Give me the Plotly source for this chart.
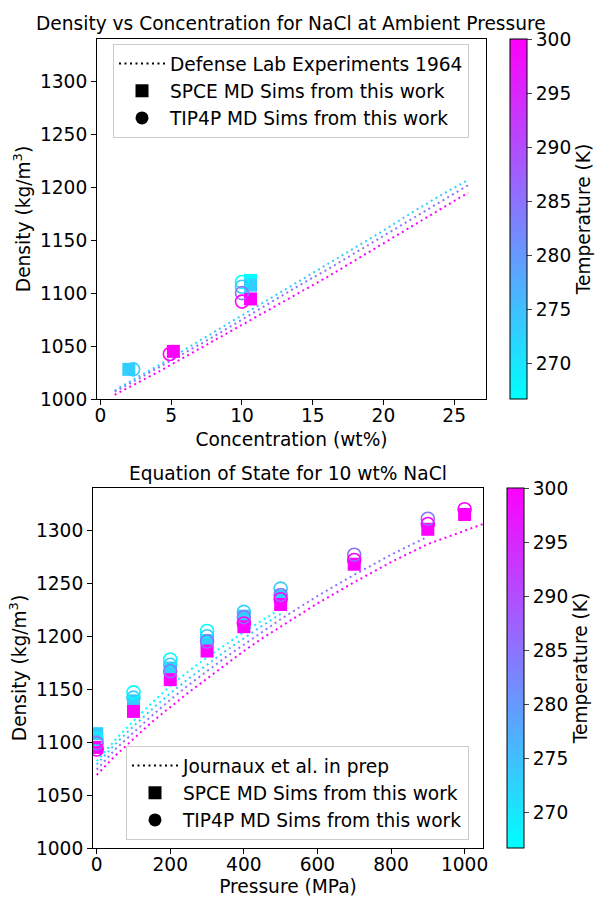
import plotly.graph_objects as go

# ---------------- data ----------------
T_MIN, T_MAX = 266.7, 300.0

# Top panel: Defense Lab experiments 1964 (dotted lines)
conc_lines = [1, 2, 4, 6, 8, 10, 12, 14, 16, 18, 20, 22, 24, 26]
defense_T = [273.15, 285.0, 300.0]
defense_dens = [
    [1008, 1016, 1031, 1047, 1063, 1079, 1095, 1111, 1127, 1143, 1159, 1176, 1192, 1207],
    [1007, 1014, 1029, 1044, 1059, 1075, 1091, 1107, 1122, 1138, 1154, 1170, 1186, 1202],
    [1004, 1011, 1025, 1040, 1055, 1070, 1085, 1100, 1115, 1131, 1147, 1163, 1179, 1195],
]

# Top panel MD sims
spce_conc = [2.0, 5.15, 10.6, 10.6, 10.6]
spce_conc_T = [273.15, 300.0, 266.7, 273.15, 300.0]
spce_conc_dens = [1028, 1045, 1112, 1107.5, 1094.5]

tip4p_conc = [2.3, 4.9, 10.0, 10.0, 10.0, 10.0]
tip4p_conc_T = [273.15, 300.0, 266.7, 273.15, 285.0, 300.0]
tip4p_conc_dens = [1028, 1042.5, 1110.5, 1106, 1100, 1092]

# Bottom panel: Journaux et al. (dotted lines)
journaux_T = [266.7, 273.15, 285.0, 300.0]
journaux_P = [
    [0, 50, 100, 150, 200, 250, 300, 350, 400, 450, 500],
    [0, 50, 100, 150, 200, 250, 300, 350, 400, 450, 500],
    [0, 50, 100, 150, 200, 250, 300, 350, 400, 450, 500, 600, 700, 800, 900],
    [0, 50, 100, 150, 200, 250, 300, 350, 400, 450, 500, 600, 700, 800, 900, 1000, 1050],
]
journaux_dens = [
    [1082, 1102, 1120, 1137, 1153, 1167, 1180, 1192, 1204, 1215, 1226],
    [1079, 1098, 1115, 1131, 1146, 1160, 1173, 1186, 1198, 1210, 1221],
    [1074, 1093, 1109, 1125, 1140, 1154, 1167, 1180, 1192, 1204, 1216, 1238, 1258, 1277, 1294],
    [1069, 1087, 1103, 1119, 1133, 1147, 1160, 1173, 1186, 1198, 1209, 1231, 1251, 1270, 1287, 1300, 1306],
]

# Bottom panel MD sims
spce_P = [0, 0, 100, 100, 200, 200, 300, 300, 400, 400, 500, 500, 700, 900, 1000]
spce_P_T = [273.15, 300, 273.15, 300, 273.15, 300, 273.15, 300, 273.15, 300, 273.15, 300, 300, 300, 300]
spce_P_dens = [1108, 1095, 1139, 1129, 1170, 1159, 1196, 1186, 1219, 1209, 1238, 1230, 1268, 1301, 1315]

tip4p_P = [0, 0, 0, 100, 100, 200, 200, 200, 300, 300, 300, 400, 400, 400, 500, 500, 500, 700, 700, 900, 900, 1000]
tip4p_P_T = [266.7, 285, 300, 266.7, 273.15, 266.7, 273.15, 285, 266.7, 273.15, 285, 273.15, 285, 300,
             273.15, 285, 300, 285, 300, 285, 300, 300]
tip4p_P_dens = [1103, 1099, 1093, 1147, 1142, 1178, 1173, 1167, 1205, 1200, 1195, 1223, 1218, 1212,
                1245, 1239, 1235, 1277, 1272, 1311, 1306, 1320]

cbar_ticks = [270, 275, 280, 285, 290, 295, 300]

# ---------------- styling ----------------
W, H = 596, 897
FONT = "DejaVu Sans"
FS = 18.6
COOL = [[0, "rgb(0,255,255)"], [1, "rgb(255,0,255)"]]
DOT = "2px,3.5px"


def cool(t):
    f = (t - T_MIN) / (T_MAX - T_MIN)
    f = min(max(f, 0), 1)
    return "rgb(%d,%d,255)" % (round(255 * f), round(255 * (1 - f)))


def px_x(p):
    return p / W


def px_y(p):
    return 1 - p / H


fig = go.Figure()

# --- top panel lines
for T, d in zip(defense_T, defense_dens):
    fig.add_trace(go.Scatter(x=conc_lines, y=d, mode="lines", xaxis="x", yaxis="y",
                             line=dict(color=cool(T), width=2, dash=DOT), showlegend=False))
fig.add_trace(go.Scatter(x=spce_conc, y=spce_conc_dens, mode="markers", xaxis="x", yaxis="y",
                         marker=dict(symbol="square", size=13, color=spce_conc_T, coloraxis="coloraxis",
                                     line=dict(width=0)), showlegend=False))
fig.add_trace(go.Scatter(x=tip4p_conc, y=tip4p_conc_dens, mode="markers", xaxis="x", yaxis="y",
                         marker=dict(symbol="circle-open", size=13, color=tip4p_conc_T, coloraxis="coloraxis",
                                     line=dict(width=1.6)), showlegend=False))

# --- bottom panel lines
for T, p, d in zip(journaux_T, journaux_P, journaux_dens):
    fig.add_trace(go.Scatter(x=p, y=d, mode="lines", xaxis="x2", yaxis="y2",
                             line=dict(color=cool(T), width=2, dash=DOT), showlegend=False))
fig.add_trace(go.Scatter(x=spce_P, y=spce_P_dens, mode="markers", xaxis="x2", yaxis="y2",
                         marker=dict(symbol="square", size=13, color=spce_P_T, coloraxis="coloraxis2",
                                     line=dict(width=0)), showlegend=False))
fig.add_trace(go.Scatter(x=tip4p_P, y=tip4p_P_dens, mode="markers", xaxis="x2", yaxis="y2",
                         marker=dict(symbol="circle-open", size=13, color=tip4p_P_T, coloraxis="coloraxis2",
                                     line=dict(width=1.6)), showlegend=False))


# --- legend entries
def legend_entries(label_line, leg, xa, ya):
    fig.add_trace(go.Scatter(x=[None], y=[None], mode="lines", name=label_line, legend=leg,
                             xaxis=xa, yaxis=ya, line=dict(color="black", width=2, dash=DOT)))
    fig.add_trace(go.Scatter(x=[None], y=[None], mode="markers", name="SPCE MD Sims from this work",
                             legend=leg, xaxis=xa, yaxis=ya,
                             marker=dict(symbol="square", size=13, color="black")))
    fig.add_trace(go.Scatter(x=[None], y=[None], mode="markers", name="TIP4P MD Sims from this work",
                             legend=leg, xaxis=xa, yaxis=ya,
                             marker=dict(symbol="circle", size=13, color="black")))


legend_entries("Defense Lab Experiments 1964", "legend", "x", "y")
legend_entries("Journaux et al. in prep", "legend2", "x2", "y2")

axis_common = dict(showline=True, linecolor="black", linewidth=1, mirror=True, ticks="outside",
                   ticklen=5, tickwidth=1, tickcolor="black", showgrid=False, zeroline=False,
                   automargin=False, tickfont=dict(family=FONT, size=FS, color="black"))

top_y = (39, 399)
bot_y = (488, 848)

cbar_common = dict(thickness=17, thicknessmode="pixels", lenmode="fraction", xanchor="left",
                   yanchor="top", xpad=0, ypad=0, outlinewidth=1, outlinecolor="black",
                   tickmode="array", tickvals=cbar_ticks, ticks="outside", ticklen=5,
                   tickfont=dict(family=FONT, size=FS, color="black"),
                   title=dict(text="Temperature (K)", side="right",
                              font=dict(family=FONT, size=FS, color="black")))

fig.update_layout(
    width=W, height=H, margin=dict(l=0, r=0, t=0, b=0, autoexpand=False),
    paper_bgcolor="white", plot_bgcolor="white",
    font=dict(family=FONT, size=FS, color="black"),
    xaxis=dict(domain=[px_x(97), px_x(486)], range=[-0.25, 27.25], tickvals=[0, 5, 10, 15, 20, 25],
               anchor="y", ticklabelstandoff=-5,
               title=dict(text="Concentration (wt%)", standoff=7,
                          font=dict(family=FONT, size=FS)), **axis_common),
    yaxis=dict(domain=[px_y(top_y[1]), px_y(top_y[0])], range=[1000, 1340],
               tickvals=[1000, 1050, 1100, 1150, 1200, 1250, 1300], anchor="x",
               title=dict(text="Density (kg/m<sup>3</sup>)", standoff=4,
                          font=dict(family=FONT, size=FS)), **axis_common),
    xaxis2=dict(domain=[px_x(93), px_x(483)], range=[-10, 1050], tickvals=[0, 200, 400, 600, 800, 1000],
                anchor="y2", ticklabelstandoff=-5,
                title=dict(text="Pressure (MPa)", standoff=7,
                           font=dict(family=FONT, size=FS)), **axis_common),
    yaxis2=dict(domain=[px_y(bot_y[1]), px_y(bot_y[0])], range=[1000, 1340],
                tickvals=[1000, 1050, 1100, 1150, 1200, 1250, 1300], anchor="x2",
                title=dict(text="Density (kg/m<sup>3</sup>)", standoff=4,
                           font=dict(family=FONT, size=FS)), **axis_common),
    coloraxis=dict(colorscale=COOL, cmin=T_MIN, cmax=T_MAX,
                   colorbar=dict(x=px_x(510), y=px_y(top_y[0]),
                                 len=(top_y[1] - top_y[0]) / H, **cbar_common)),
    coloraxis2=dict(colorscale=COOL, cmin=T_MIN, cmax=T_MAX,
                    colorbar=dict(x=px_x(507), y=px_y(bot_y[0]),
                                  len=(bot_y[1] - bot_y[0]) / H, **cbar_common)),
    legend=dict(x=px_x(113), y=px_y(44), xanchor="left", yanchor="top", bgcolor="rgba(255,255,255,0.8)",
                bordercolor="#cccccc", borderwidth=1, font=dict(family=FONT, size=FS, color="black"),
                itemwidth=46, tracegroupgap=0),
    legend2=dict(x=px_x(126), y=px_y(746), xanchor="left", yanchor="top", bgcolor="rgba(255,255,255,0.8)",
                 bordercolor="#cccccc", borderwidth=1, font=dict(family=FONT, size=FS, color="black"),
                 itemwidth=46, tracegroupgap=0),
    annotations=[
        dict(text="Density vs Concentration for NaCl at Ambient Pressure", xref="paper", yref="paper",
             x=px_x(291), y=px_y(23), xanchor="center", yanchor="middle", showarrow=False,
             font=dict(family=FONT, size=FS, color="black")),
        dict(text="Equation of State for 10 wt% NaCl", xref="paper", yref="paper",
             x=px_x(288), y=px_y(473), xanchor="center", yanchor="middle", showarrow=False,
             font=dict(family=FONT, size=FS, color="black")),
    ],
)

fig.write_html("out.html")
